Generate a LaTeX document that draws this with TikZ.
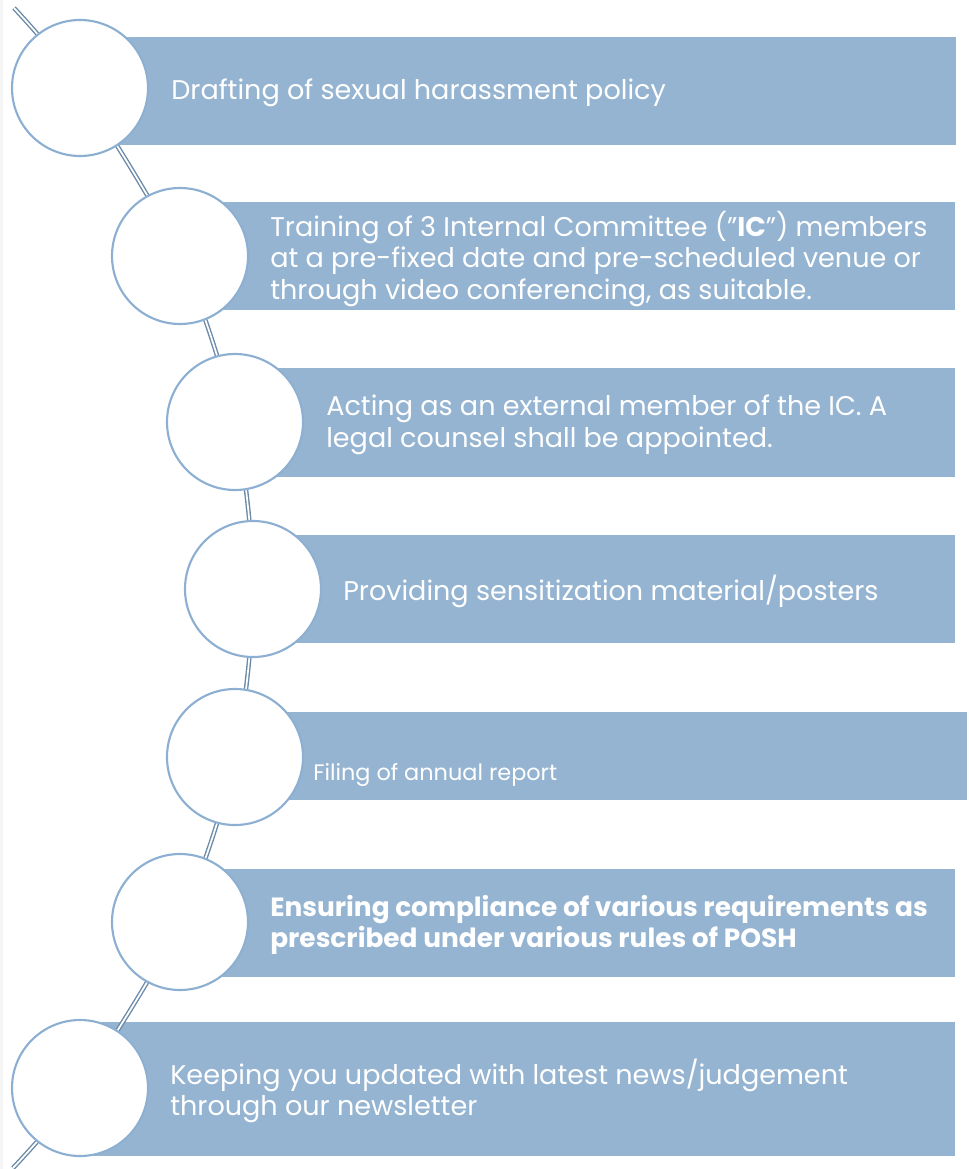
\documentclass[tikz,border=0pt]{standalone}
\usepackage{fontspec}
\setmainfont{Poppins}
\usepackage{xcolor}

\definecolor{barblue}{HTML}{95B4D1}
\definecolor{ringblue}{HTML}{8DB0D2}
\definecolor{chainblue}{HTML}{6A8AA8}

\begin{document}
\begin{tikzpicture}[x=0.75pt,y=-0.75pt,
    bar/.style={fill=barblue},
    ring/.style={circle,draw=ringblue,fill=white,line width=1.6pt,minimum size=102pt,inner sep=0pt},
    link/.style={draw=chainblue,double=white,line width=1.05pt,double distance=1.3pt},
    label/.style={anchor=west,text=white,align=left,inner sep=0pt,font=\fontsize{20.3}{23.6}\selectfont}]

    \useasboundingbox (0,0) rectangle (968,1169);
    \fill[gray!8] (0,0) rectangle (3,1169);

    % bars
    \path[bar] (80,37) rectangle (956,145);
    \path[bar] (180,202) rectangle (955,310);
    \path[bar] (235,368) rectangle (955,477);
    \path[bar] (253,535) rectangle (955,643);
    \path[bar] (235,712) rectangle (967,800);
    \path[bar] (180,869) rectangle (955,977);
    \path[bar] (80,1022) rectangle (955,1156);

    \coordinate (top) at (14,8);
    \coordinate (bottom) at (13,1168);
    \coordinate (1) at (80,88);
    \coordinate (2) at (180,256);
    \coordinate (3) at (235,422);
    \coordinate (4) at (253,589);
    \coordinate (5) at (235,757);
    \coordinate (6) at (180,922);
    \coordinate (7) at (80,1088);

    \draw[link] plot[smooth] coordinates {(top) (1) (2) (3) (4) (5) (6) (7) (bottom)};

    \node[ring] (c1) at (1) {};
    \node[ring] (c2) at (2) {};
    \node[ring] (c3) at (3) {};
    \node[ring] (c4) at (4) {};
    \node[ring] (c5) at (5) {};
    \node[ring] (c6) at (6) {};
    \node[ring] (c7) at (7) {};

    \node[label] (t1) at (171,93) {Drafting of sexual harassment policy};
    \node[label] (t2) at (270,259) {Training of 3 Internal Committee (\symbol{34}\textbf{IC}\symbol{34}) members\\at a pre-fixed date and pre-scheduled venue or\\through video conferencing, as suitable.};
    \node[label] (t3) at (326,425) {Acting as an external member of the IC. A\\legal counsel shall be appointed.};
    \node[label] (t4) at (343,591) {Providing sensitization material/posters};
    \node[label,font=\fontsize{16.8}{19}\selectfont] (t5) at (313,775) {Filing of annual report};
    \node[label,font=\fontsize{19.8}{23.6}\selectfont\bfseries] (t6) at (270,925) {Ensuring compliance of various requirements as\\prescribed under various rules of POSH};
    \node[label] (t7) at (170,1091) {Keeping you updated with latest news/judgement\\through our newsletter};
\end{tikzpicture}
\end{document}
